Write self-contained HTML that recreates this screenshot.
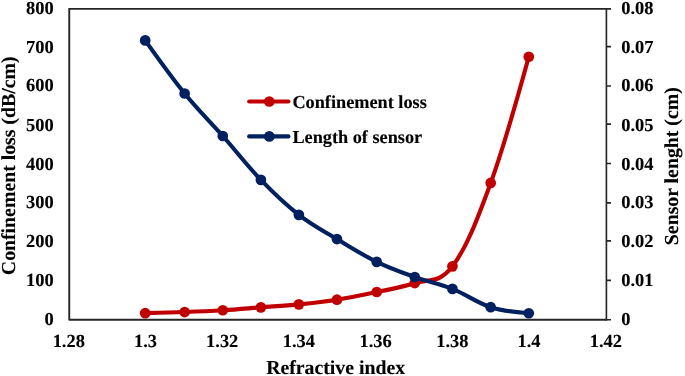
<!DOCTYPE html>
<html><head><meta charset="utf-8"><title>Chart</title>
<style>
html,body{margin:0;padding:0;background:#fff;}
svg{display:block;filter:blur(0.3px);}
text{font-family:"Liberation Serif","Times New Roman",serif;font-weight:bold;fill:#000;stroke:#000;stroke-width:0.12px;text-rendering:geometricPrecision;}
.t{font-size:18.4px;}
.ti{font-size:19.8px;}
.lg{font-size:18.25px;}
</style></head><body>
<svg width="685" height="376" viewBox="0 0 685 376">
<rect width="685" height="376" fill="#fff"/>
<path d="M69.25,8.0 L69.25,319.75 L606.4,319.75" fill="none" stroke="#262626" stroke-width="1.9" stroke-linejoin="round"/>
<path d="M69.25,8.8 L606.4,8.8 M606.4,8.0 L606.4,320.65" fill="none" stroke="#262626" stroke-width="1.65"/>
<path d="M606.4,319.75 h4.6 M606.4,280.30 h4.6 M606.4,240.90 h4.6 M606.4,202.90 h4.6 M606.4,163.50 h4.6 M606.4,124.10 h4.6 M606.4,86.00 h4.6 M606.4,46.70 h4.6 M606.4,8.80 h4.6 " fill="none" stroke="#262626" stroke-width="1.7"/>
<text class="t" transform="translate(53.6,324.85) scale(1,1)" text-anchor="end">0</text>
<text class="t" transform="translate(53.6,285.65) scale(1,1)" text-anchor="end">100</text>
<text class="t" transform="translate(53.6,247.25) scale(1,1)" text-anchor="end">200</text>
<text class="t" transform="translate(53.6,208.30) scale(1,1)" text-anchor="end">300</text>
<text class="t" transform="translate(53.6,170.25) scale(1,1)" text-anchor="end">400</text>
<text class="t" transform="translate(53.6,130.57) scale(1,1)" text-anchor="end">500</text>
<text class="t" transform="translate(53.6,91.30) scale(1,1)" text-anchor="end">600</text>
<text class="t" transform="translate(53.6,53.30) scale(1,1)" text-anchor="end">700</text>
<text class="t" transform="translate(53.6,13.90) scale(1,1)" text-anchor="end">800</text>
<text class="t" transform="translate(621.3,324.85) scale(1,1)">0</text>
<text class="t" transform="translate(621.3,285.65) scale(1,1)">0.01</text>
<text class="t" transform="translate(621.3,247.25) scale(1,1)">0.02</text>
<text class="t" transform="translate(621.3,208.30) scale(1,1)">0.03</text>
<text class="t" transform="translate(621.3,170.25) scale(1,1)">0.04</text>
<text class="t" transform="translate(621.3,130.57) scale(1,1)">0.05</text>
<text class="t" transform="translate(621.3,91.30) scale(1,1)">0.06</text>
<text class="t" transform="translate(621.3,53.30) scale(1,1)">0.07</text>
<text class="t" transform="translate(621.3,13.90) scale(1,1)">0.08</text>
<text class="t" transform="translate(68.75,347.1) scale(1,1)" text-anchor="middle">1.28</text>
<text class="t" transform="translate(145.47,347.1) scale(1,1)" text-anchor="middle">1.3</text>
<text class="t" transform="translate(222.19,347.1) scale(1,1)" text-anchor="middle">1.32</text>
<text class="t" transform="translate(298.91,347.1) scale(1,1)" text-anchor="middle">1.34</text>
<text class="t" transform="translate(375.63,347.1) scale(1,1)" text-anchor="middle">1.36</text>
<text class="t" transform="translate(452.35,347.1) scale(1,1)" text-anchor="middle">1.38</text>
<text class="t" transform="translate(529.07,347.1) scale(1,1)" text-anchor="middle">1.4</text>
<text class="t" transform="translate(605.79,347.1) scale(1,1)" text-anchor="middle">1.42</text>
<text class="ti" x="335.65" y="373.8" text-anchor="middle">Refractive index</text>
<text class="ti" transform="translate(15.3,165.8) rotate(-90)" text-anchor="middle">Confinement loss (dB/cm)</text>
<text class="ti" transform="translate(677.7,166.2) rotate(-90)" text-anchor="middle">Sensor lenght (cm)</text>
<path d="M145.20,313.20 C157.87,312.89 170.54,312.59 184.65,312.05 C198.76,311.51 208.94,311.10 222.80,310.25 C236.66,309.40 247.07,308.42 260.90,307.35 C274.73,306.28 285.04,305.74 298.87,304.35 C312.70,302.96 322.80,301.95 336.95,299.70 C351.10,297.45 362.55,295.03 376.70,292.00 C390.85,288.97 400.98,287.71 414.75,283.05 C428.52,278.39 438.62,284.55 452.43,266.35 C466.24,248.15 476.81,221.06 490.70,182.95 C504.59,144.84 516.69,100.80 528.80,56.75" fill="none" stroke="#C00000" stroke-width="4.15" stroke-linecap="round" stroke-linejoin="round"/>
<circle cx="145.20" cy="313.20" r="5.35" fill="#C00000"/>
<circle cx="184.65" cy="312.05" r="5.35" fill="#C00000"/>
<circle cx="222.80" cy="310.25" r="5.35" fill="#C00000"/>
<circle cx="260.90" cy="307.35" r="5.35" fill="#C00000"/>
<circle cx="298.87" cy="304.35" r="5.35" fill="#C00000"/>
<circle cx="336.95" cy="299.70" r="5.35" fill="#C00000"/>
<circle cx="376.70" cy="292.00" r="5.35" fill="#C00000"/>
<circle cx="414.75" cy="283.05" r="5.35" fill="#C00000"/>
<circle cx="452.43" cy="266.35" r="5.35" fill="#C00000"/>
<circle cx="490.70" cy="182.95" r="5.35" fill="#C00000"/>
<circle cx="528.80" cy="56.75" r="5.35" fill="#C00000"/>
<path d="M145.20,40.40 C157.87,58.26 170.54,76.12 184.65,93.50 C198.76,110.88 208.94,120.29 222.80,136.00 C236.66,151.71 247.07,165.56 260.90,179.90 C274.73,194.24 285.04,204.10 298.87,214.85 C312.70,225.60 322.80,230.50 336.95,239.05 C351.10,247.60 362.55,254.95 376.70,261.85 C390.85,268.75 400.98,272.08 414.75,277.00 C428.52,281.92 438.62,283.41 452.43,288.90 C466.24,294.39 476.81,302.77 490.70,307.20 C504.59,311.63 516.69,312.44 528.80,313.25" fill="none" stroke="#002060" stroke-width="4.15" stroke-linecap="round" stroke-linejoin="round"/>
<circle cx="145.20" cy="40.40" r="5.35" fill="#002060"/>
<circle cx="184.65" cy="93.50" r="5.35" fill="#002060"/>
<circle cx="222.80" cy="136.00" r="5.35" fill="#002060"/>
<circle cx="260.90" cy="179.90" r="5.35" fill="#002060"/>
<circle cx="298.87" cy="214.85" r="5.35" fill="#002060"/>
<circle cx="336.95" cy="239.05" r="5.35" fill="#002060"/>
<circle cx="376.70" cy="261.85" r="5.35" fill="#002060"/>
<circle cx="414.75" cy="277.00" r="5.35" fill="#002060"/>
<circle cx="452.43" cy="288.90" r="5.35" fill="#002060"/>
<circle cx="490.70" cy="307.20" r="5.35" fill="#002060"/>
<circle cx="528.80" cy="313.25" r="5.35" fill="#002060"/>
<path d="M249.2,101.5 H288.4" stroke="#C00000" stroke-width="4.15" stroke-linecap="round"/><circle cx="269.3" cy="101.5" r="5.35" fill="#C00000"/>
<text class="lg" transform="translate(292.4,107.5) scale(1,1)">Confinement loss</text>
<path d="M249.2,136.4 H288.4" stroke="#002060" stroke-width="4.15" stroke-linecap="round"/><circle cx="269.3" cy="136.4" r="5.35" fill="#002060"/>
<text class="lg" transform="translate(292.4,142.7) scale(1,1)">Length of sensor</text>
</svg></body></html>
